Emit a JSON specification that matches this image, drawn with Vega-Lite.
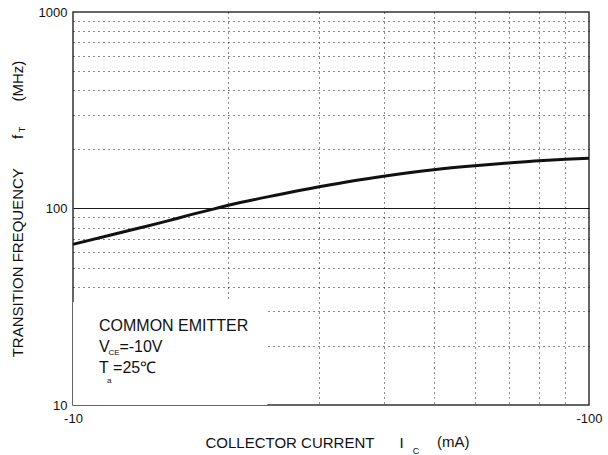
{
  "$schema": "https://vega.github.io/schema/vega-lite/v6.json",
  "width": 516,
  "height": 393,
  "autosize": {"type": "none"},
  "padding": {"left": 73, "top": 12, "right": 19, "bottom": 50},
  "background": "white",
  "config": {
    "view": {"stroke": "#333", "strokeWidth": 1.5},
    "font": "Liberation Sans"
  },
  "datasets": {
    "curve": [
      {"x": 10, "y": 65.7}, {"x": 12, "y": 74}, {"x": 13.5, "y": 79.8}, {"x": 15, "y": 85.5},
      {"x": 17, "y": 93.3}, {"x": 18.7, "y": 99.3}, {"x": 20, "y": 103.8}, {"x": 25, "y": 117.5},
      {"x": 30, "y": 129}, {"x": 35, "y": 138.5}, {"x": 40, "y": 146}, {"x": 50, "y": 157.5},
      {"x": 60, "y": 165}, {"x": 70, "y": 170.5}, {"x": 80, "y": 175}, {"x": 90, "y": 178},
      {"x": 100, "y": 180}
    ],
    "box": [{"x": 10, "x2": 23.8, "y": 10, "y2": 33.4}],
    "notes": [
      {"text": "COMMON EMITTER", "x": 11.23, "y": 23.8},
      {"text": "V", "x": 11.23, "y": 18.67},
      {"text": "=-10V", "x": 12.3, "y": 18.67},
      {"text": "T", "x": 11.23, "y": 14.6},
      {"text": "=25℃", "x": 11.96, "y": 14.6}
    ],
    "subs": [
      {"text": "CE", "x": 11.72, "y": 17.96},
      {"text": "a", "x": 11.64, "y": 12.94}
    ],
    "ysub": [{"text": "T", "x": 8.07, "y": 252.3}],
    "xsub": [{"text": "C", "x": 46.2, "y": 5.6}],
    "xunit": [{"text": "(mA)", "x": 50.75, "y": 6.11}]
  },
  "encoding": {
    "x": {
      "field": "x", "type": "quantitative",
      "scale": {"type": "log", "domain": [10, 100]},
      "axis": {
        "values": [10, 20, 30, 40, 50, 60, 70, 80, 90, 100],
        "labelExpr": "datum.value == 10 || datum.value == 100 ? '-' + datum.value : ''",
        "grid": true,
        "gridDash": [1, 4],
        "gridColor": "#000",
        "gridOpacity": {"condition": {"test": "datum.value == 10 || datum.value == 100", "value": 0}, "value": 0.9},
        "ticks": false,
        "domain": false,
        "labelFontSize": 13,
        "labelColor": "#111",
        "labelPadding": 7,
        "labelFlush": false,
        "labelOverlap": false,
        "title": "COLLECTOR CURRENT\u00a0\u00a0\u00a0\u00a0\u00a0\u00a0I",
        "titleFontSize": 15,
        "titleFontWeight": "normal",
        "titleColor": "#111",
        "titleX": 132,
        "titleY": 42,
        "titleAlign": "left",
        "titleBaseline": "alphabetic"
      }
    },
    "y": {
      "field": "y", "type": "quantitative",
      "scale": {"type": "log", "domain": [10, 1000]},
      "axis": {
        "values": [10, 20, 30, 40, 50, 60, 70, 80, 90, 100, 200, 300, 400, 500, 600, 700, 800, 900, 1000],
        "labelExpr": "datum.value == 10 || datum.value == 100 || datum.value == 1000 ? '' + datum.value : ''",
        "grid": true,
        "gridDash": {"condition": {"test": "datum.value == 100", "value": []}, "value": [1, 4]},
        "gridColor": "#000",
        "gridWidth": {"condition": {"test": "datum.value == 100", "value": 1.2}, "value": 1},
        "gridOpacity": {"condition": {"test": "datum.value == 10 || datum.value == 1000", "value": 0}, "value": 0.9},
        "ticks": false,
        "domain": false,
        "labelFontSize": 13,
        "labelColor": "#111",
        "labelPadding": 6,
        "labelFlush": false,
        "labelOverlap": false,
        "title": "TRANSITION FREQUENCY\u00a0\u00a0\u00a0\u00a0\u00a0\u00a0\u00a0f\u00a0\u00a0\u00a0\u00a0\u00a0\u00a0\u00a0\u00a0(MHz)",
        "titleFontSize": 15,
        "titleFontWeight": "normal",
        "titleColor": "#111",
        "titleX": -51,
        "titleY": 196.5,
        "titleAngle": -90,
        "titleAlign": "center",
        "titleBaseline": "alphabetic"
      }
    }
  },
  "layer": [
    {
      "data": {"name": "box"},
      "mark": {"type": "rect", "fill": "white", "stroke": null},
      "encoding": {"x2": {"field": "x2"}, "y2": {"field": "y2"}}
    },
    {
      "data": {"name": "curve"},
      "mark": {"type": "line", "color": "#111", "strokeWidth": 3, "interpolate": "monotone"}
    },
    {
      "data": {"name": "notes"},
      "mark": {"type": "text", "fontSize": 16, "align": "left", "baseline": "alphabetic", "color": "#111"},
      "encoding": {"text": {"field": "text"}}
    },
    {
      "data": {"name": "subs"},
      "mark": {"type": "text", "fontSize": 8, "align": "left", "baseline": "alphabetic", "color": "#111"},
      "encoding": {"text": {"field": "text"}}
    },
    {
      "data": {"name": "ysub"},
      "mark": {"type": "text", "fontSize": 9, "align": "center", "baseline": "alphabetic", "angle": 270, "color": "#111"},
      "encoding": {"text": {"field": "text"}}
    },
    {
      "data": {"name": "xsub"},
      "mark": {"type": "text", "fontSize": 9, "align": "center", "baseline": "alphabetic", "color": "#111"},
      "encoding": {"text": {"field": "text"}}
    },
    {
      "data": {"name": "xunit"},
      "mark": {"type": "text", "fontSize": 15, "align": "left", "baseline": "alphabetic", "color": "#111"},
      "encoding": {"text": {"field": "text"}}
    }
  ]
}
